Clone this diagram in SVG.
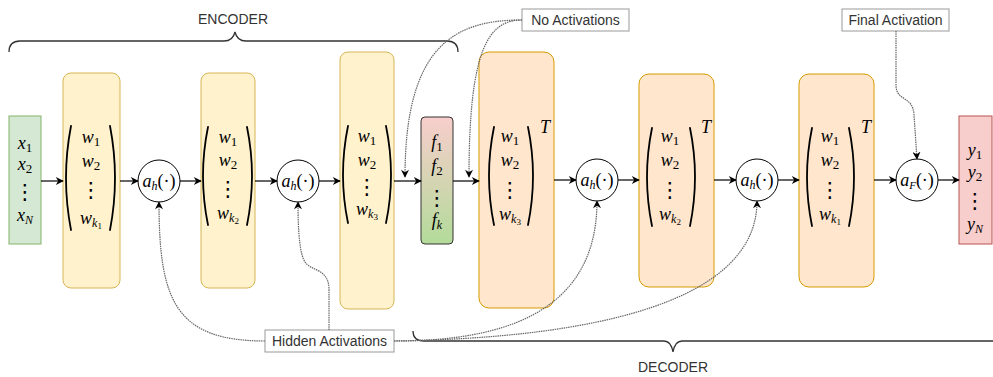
<svg xmlns="http://www.w3.org/2000/svg" width="993" height="377" viewBox="0 0 993 377">
<defs>
<style>
.enc{fill:#fff2cc;stroke:#d6b656;stroke-width:1}
.dec{fill:#ffe6cc;stroke:#d79b00;stroke-width:1}
.m{font-family:"Liberation Serif","DejaVu Serif",serif;font-size:18px;fill:#000;text-anchor:middle}
.i{font-style:italic}
.dots{font-family:"DejaVu Sans",sans-serif;font-size:21px;fill:#000;text-anchor:middle}
.par{fill:none;stroke:#000;stroke-width:1.8;stroke-linecap:round}
.lbl{font-family:"Liberation Sans",Arial,sans-serif;font-size:14px;fill:#333;text-anchor:middle}
.lbox{fill:#fff;stroke:#999;stroke-width:1}
.arr{fill:none;stroke:#000;stroke-width:1.2;marker-end:url(#ah)}
.dot{fill:none;stroke:#666;stroke-width:1.2;stroke-dasharray:1.5 0.8;marker-end:url(#ah)}
.brace{fill:none;stroke:#333;stroke-width:1.3}
.circ{fill:#fff;stroke:#000;stroke-width:1}
</style>
<marker id="ah" viewBox="0 0 10 10" refX="9" refY="5" markerWidth="9" markerHeight="8" markerUnits="userSpaceOnUse" orient="auto">
<path d="M0,0 L10,5 L0,10 L3,5 Z" fill="#000"/>
</marker>
<linearGradient id="fg" x1="0" y1="0" x2="0" y2="1">
<stop offset="0" stop-color="#f8cecc"/>
<stop offset="1" stop-color="#b3db9a"/>
</linearGradient>
</defs>

<g id="encoder-brace">
<path class="brace" d="M9,52 Q9,41 20,41 L224,41 Q233,41 235,32 Q237,41 246,41 L447,41 Q458,41 458,52"/>
<text class="lbl" x="233" y="24">ENCODER</text>
</g>
<g id="decoder-brace">
<path class="brace" d="M413,331 Q413,341 424,341 L664,341 Q671,341 673,352 Q675,341 682,341 L1000,341"/>
<text class="lbl" x="673" y="372">DECODER</text>
</g>

<g id="input">
<rect x="9" y="116" width="32" height="128" fill="#d5e8d4" stroke="#82b366"/>
<text class="m" x="25" y="149"><tspan class="i">x</tspan><tspan font-size="13" dy="3">1</tspan></text>
<text class="m" x="25" y="170"><tspan class="i">x</tspan><tspan font-size="13" dy="3">2</tspan></text>
<text class="dots" x="25" y="199">⋮</text>
<text class="m" x="25" y="221"><tspan class="i">x</tspan><tspan class="i" font-size="12" dy="3">N</tspan></text>
</g>

<g id="enc1">
<rect class="enc" x="63" y="73" width="57" height="215" rx="8"/>
<path class="par" d="M71,126 Q61,178 71,230"/><path class="par" d="M110,126 Q120,178 110,230"/>
<text class="m" x="91" y="143"><tspan class="i">w</tspan><tspan font-size="13" dy="3">1</tspan></text>
<text class="m" x="91" y="167"><tspan class="i">w</tspan><tspan font-size="13" dy="3">2</tspan></text>
<text class="dots" x="91" y="197">⋮</text>
<text class="m" x="91" y="224"><tspan class="i">w</tspan><tspan class="i" font-size="12" dy="3">k</tspan><tspan font-size="9" dy="2">1</tspan></text>
</g>

<g id="act1">
<circle class="circ" cx="159" cy="181" r="21"/>
<text class="m" x="159" y="187"><tspan class="i">a</tspan><tspan class="i" font-size="12" dy="3">h</tspan><tspan dy="-3">(·)</tspan></text>
</g>

<g id="enc2">
<rect class="enc" x="201" y="73" width="54" height="215" rx="8"/>
<path class="par" d="M208,127 Q198,176 208,225"/><path class="par" d="M247,127 Q257,176 247,225"/>
<text class="m" x="228" y="143"><tspan class="i">w</tspan><tspan font-size="13" dy="3">1</tspan></text>
<text class="m" x="228" y="166"><tspan class="i">w</tspan><tspan font-size="13" dy="3">2</tspan></text>
<text class="dots" x="228" y="196">⋮</text>
<text class="m" x="228" y="219"><tspan class="i">w</tspan><tspan class="i" font-size="12" dy="3">k</tspan><tspan font-size="9" dy="2">2</tspan></text>
</g>

<g id="act2">
<circle class="circ" cx="298" cy="181" r="21"/>
<text class="m" x="298" y="187"><tspan class="i">a</tspan><tspan class="i" font-size="12" dy="3">h</tspan><tspan dy="-3">(·)</tspan></text>
</g>

<g id="enc3">
<rect class="enc" x="340" y="52" width="54" height="257" rx="8"/>
<path class="par" d="M348,126 Q338,175 348,223"/><path class="par" d="M386,126 Q396,175 386,223"/>
<text class="m" x="367" y="142"><tspan class="i">w</tspan><tspan font-size="13" dy="3">1</tspan></text>
<text class="m" x="367" y="166"><tspan class="i">w</tspan><tspan font-size="13" dy="3">2</tspan></text>
<text class="dots" x="367" y="194">⋮</text>
<text class="m" x="367" y="215"><tspan class="i">w</tspan><tspan class="i" font-size="12" dy="3">k</tspan><tspan font-size="9" dy="2">3</tspan></text>
</g>

<g id="latent">
<rect x="421" y="117" width="32" height="127" rx="4" fill="url(#fg)" stroke="#333"/>
<text class="m" x="437" y="148"><tspan class="i">f</tspan><tspan font-size="13" dy="3">1</tspan></text>
<text class="m" x="437" y="172"><tspan class="i">f</tspan><tspan font-size="13" dy="3">2</tspan></text>
<text class="dots" x="437" y="205">⋮</text>
<text class="m" x="437" y="226"><tspan class="i">f</tspan><tspan class="i" font-size="12" dy="3">k</tspan></text>
</g>

<g id="dec1">
<rect class="dec" x="479" y="52" width="75" height="256" rx="10"/>
<path class="par" d="M494,127 Q484,176 494,225"/><path class="par" d="M528,127 Q538,176 528,225"/>
<text class="m" x="510" y="142"><tspan class="i">w</tspan><tspan font-size="13" dy="3">1</tspan></text>
<text class="m" x="510" y="166"><tspan class="i">w</tspan><tspan font-size="13" dy="3">2</tspan></text>
<text class="dots" x="510" y="197">⋮</text>
<text class="m" x="510" y="220"><tspan class="i">w</tspan><tspan class="i" font-size="12" dy="3">k</tspan><tspan font-size="9" dy="2">3</tspan></text>
<text class="m i" x="545" y="133" font-size="12">T</text>
</g>

<g id="act3">
<circle class="circ" cx="597" cy="180" r="21"/>
<text class="m" x="597" y="186"><tspan class="i">a</tspan><tspan class="i" font-size="12" dy="3">h</tspan><tspan dy="-3">(·)</tspan></text>
</g>

<g id="dec2">
<rect class="dec" x="639" y="74" width="75" height="213" rx="10"/>
<path class="par" d="M652,128 Q642,177 652,226"/><path class="par" d="M690,128 Q700,177 690,226"/>
<text class="m" x="670" y="142"><tspan class="i">w</tspan><tspan font-size="13" dy="3">1</tspan></text>
<text class="m" x="670" y="166"><tspan class="i">w</tspan><tspan font-size="13" dy="3">2</tspan></text>
<text class="dots" x="670" y="197">⋮</text>
<text class="m" x="670" y="220"><tspan class="i">w</tspan><tspan class="i" font-size="12" dy="3">k</tspan><tspan font-size="9" dy="2">2</tspan></text>
<text class="m i" x="706" y="133" font-size="12">T</text>
</g>

<g id="act4">
<circle class="circ" cx="757" cy="180" r="21"/>
<text class="m" x="757" y="186"><tspan class="i">a</tspan><tspan class="i" font-size="12" dy="3">h</tspan><tspan dy="-3">(·)</tspan></text>
</g>

<g id="dec3">
<rect class="dec" x="799" y="74" width="75" height="213" rx="10"/>
<path class="par" d="M812,128 Q802,177 812,226"/><path class="par" d="M849,128 Q859,177 849,226"/>
<text class="m" x="830" y="142"><tspan class="i">w</tspan><tspan font-size="13" dy="3">1</tspan></text>
<text class="m" x="830" y="166"><tspan class="i">w</tspan><tspan font-size="13" dy="3">2</tspan></text>
<text class="dots" x="830" y="197">⋮</text>
<text class="m" x="830" y="220"><tspan class="i">w</tspan><tspan class="i" font-size="12" dy="3">k</tspan><tspan font-size="9" dy="2">1</tspan></text>
<text class="m i" x="866" y="133" font-size="12">T</text>
</g>

<g id="actF">
<circle class="circ" cx="917" cy="180" r="21"/>
<text class="m" x="917" y="186"><tspan class="i">a</tspan><tspan class="i" font-size="11" dy="3">F</tspan><tspan dy="-3">(·)</tspan></text>
</g>

<g id="output">
<rect x="959" y="116" width="33" height="128" fill="#f8cecc" stroke="#b85450"/>
<text class="m" x="975" y="156"><tspan class="i">y</tspan><tspan font-size="13" dy="3">1</tspan></text>
<text class="m" x="975" y="178"><tspan class="i">y</tspan><tspan font-size="13" dy="3">2</tspan></text>
<text class="dots" x="975" y="208">⋮</text>
<text class="m" x="975" y="230"><tspan class="i">y</tspan><tspan class="i" font-size="12" dy="3">N</tspan></text>
</g>

<g id="hidden-activations">
<rect class="lbox" x="265" y="330" width="129" height="22"/>
<text class="lbl" x="329.5" y="346">Hidden Activations</text>
</g>
<g id="no-activations">
<rect class="lbox" x="522" y="9" width="107" height="22"/>
<text class="lbl" x="575.5" y="25">No Activations</text>
</g>
<g id="final-activation">
<rect class="lbox" x="842" y="9" width="107" height="22"/>
<text class="lbl" x="895.5" y="25">Final Activation</text>
</g>

<g id="connectors">
<path class="arr" d="M41,181 L63,181"/>
<path class="arr" d="M120,181 L138,181"/>
<path class="arr" d="M180,181 L201,181"/>
<path class="arr" d="M255,181 L277,181"/>
<path class="arr" d="M319,181 L340,181"/>
<path class="arr" d="M394,181 L421,181"/>
<path class="arr" d="M453,181 L479,181"/>
<path class="arr" d="M554,180 L576,180"/>
<path class="arr" d="M618,180 L639,180"/>
<path class="arr" d="M714,180 L736,180"/>
<path class="arr" d="M778,180 L799,180"/>
<path class="arr" d="M874,180 L896,180"/>
<path class="arr" d="M938,180 L959,180"/>

<path class="dot" d="M265,341 C175,341 159,300 159,202"/>
<path class="dot" d="M329,330 L329,290 C329,268 312,272 305,262 C300,254 298,235 298,202"/>
<path class="dot" d="M394,341 C490,341 597,320 597,201"/>
<path class="dot" d="M394,341 C600,338 757,300 757,201"/>
<path class="dot" d="M522,20 C455,20 405,45 405,177"/>
<path class="dot" d="M522,20 C488,20 469,50 469,177"/>
<path class="dot" d="M896,31 L896,85 C896,102 913,95 914,115 L917,159"/>
</g>
</svg>
